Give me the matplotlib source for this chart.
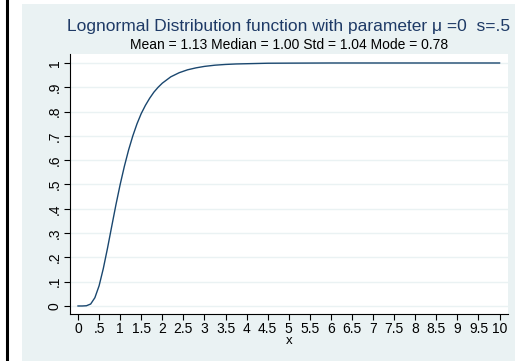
import matplotlib
matplotlib.use("Agg")
import matplotlib.pyplot as plt
from matplotlib.patches import Rectangle
from matplotlib.lines import Line2D

# values
x_vals = [0.0, 0.1, 0.2, 0.3, 0.4, 0.5, 0.6, 0.7, 0.8, 0.9, 1.0, 1.1, 1.2, 1.3, 1.4,
          1.5, 1.6, 1.7, 1.8, 1.9, 2.0, 2.2, 2.4, 2.6, 2.8, 3.0, 3.25, 3.5, 3.75, 4.0,
          4.5, 5.0, 6.0, 7.0, 8.0, 9.0, 10.0]
cdf_vals = [0.0, 0.0, 0.001, 0.008, 0.034, 0.083, 0.154, 0.238, 0.328, 0.417, 0.500,
            0.575, 0.642, 0.700, 0.750, 0.792, 0.826, 0.855, 0.880, 0.900, 0.917,
            0.943, 0.960, 0.972, 0.980, 0.986, 0.991, 0.994, 0.996, 0.997,
            0.999, 0.9994, 1.0, 1.0, 1.0, 1.0, 1.0]
x_ticks = [0, 0.5, 1, 1.5, 2, 2.5, 3, 3.5, 4, 4.5, 5, 5.5, 6, 6.5, 7, 7.5, 8, 8.5, 9, 9.5, 10]
x_tick_labels = ["0", ".5", "1", "1.5", "2", "2.5", "3", "3.5", "4", "4.5", "5", "5.5",
                 "6", "6.5", "7", "7.5", "8", "8.5", "9", "9.5", "10"]
y_ticks = [0, 0.1, 0.2, 0.3, 0.4, 0.5, 0.6, 0.7, 0.8, 0.9, 1.0]
y_tick_labels = ["0", ".1", ".2", ".3", ".4", ".5", ".6", ".7", ".8", ".9", "1"]
title = "Lognormal Distribution function with parameter \u03bc =0  s=.5"
subtitle = "Mean = 1.13 Median = 1.00 Std = 1.04 Mode = 0.78"

plt.rcParams['font.family'] = ['Liberation Sans', 'DejaVu Sans']

W, H = 515, 361
fig = plt.figure(figsize=(W / 100, H / 100), dpi=100)
fig.patch.set_facecolor('white')

# background panel
fig.add_artist(Rectangle((22 / W, 0), 1 - 22 / W, 1 - 4 / H, transform=fig.transFigure,
                         facecolor='#eaf2f3', edgecolor='none', zorder=0))
# black bar on left
fig.add_artist(Line2D([7 / W, 7 / W], [0, 1], transform=fig.transFigure,
                      color='black', linewidth=2.2, zorder=1))

left, right, top, bottom = 70, 508, 54, 314
ax = fig.add_axes([left / W, 1 - bottom / H, (right - left) / W, (bottom - top) / H])
ax.set_facecolor('white')
ax.plot(x_vals, cdf_vals, color='#1a476f', linewidth=1.0, zorder=3)

ax.set_xlim(-0.19, 10.2)
ax.set_ylim(-0.033, 1.037)
ax.set_xticks(x_ticks)
ax.set_xticklabels(x_tick_labels, fontsize=10)
ax.set_yticks(y_ticks)
ax.set_yticklabels(y_tick_labels, fontsize=10, rotation=90, va='center')
ax.grid(axis='y', color='#eaf2f3', linewidth=1.0)
ax.set_axisbelow(True)
for s in ['top', 'right']:
    ax.spines[s].set_visible(False)
for s in ['left', 'bottom']:
    ax.spines[s].set_color('black')
    ax.spines[s].set_linewidth(0.8)
ax.tick_params(axis='both', direction='out', length=4, width=0.8, pad=2)
ax.set_xlabel('x', fontsize=9.5, labelpad=-1)

fig.text(289 / W, 1 - 27 / H, title, ha='center', va='center', fontsize=12.5, color='#1e3a66')
fig.text(289 / W, 1 - 45 / H, subtitle, ha='center', va='center', fontsize=10, color='black')

fig.savefig('out.png', dpi=100)
